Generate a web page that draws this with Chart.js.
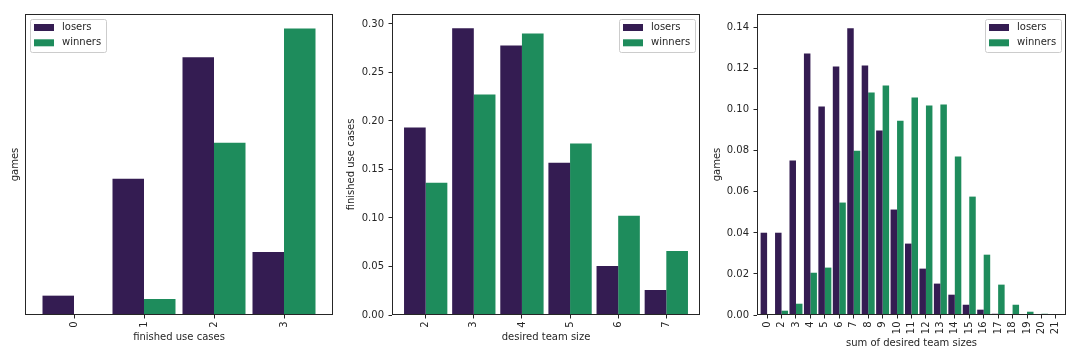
<!DOCTYPE html>
<html>
<head>
<meta charset="utf-8">
<script src="https://cdn.jsdelivr.net/npm/chart.js@4"></script>
<style>
  body { margin: 0; background: #fff; }
  #wrap { position: relative; width: 1080px; height: 360px; overflow: hidden; }
  canvas { position: absolute; top: 0; }
</style>
</head>
<body>
<div id="wrap">
  <canvas id="useCases" width="345" height="360" style="left:0px"></canvas>
  <canvas id="teamSize" width="370" height="360" style="left:340px"></canvas>
  <canvas id="teamSum" width="380" height="360" style="left:700px"></canvas>
</div>
<script>
// finished use cases (share of games)
const useCaseLabels = ['0', '1', '2', '3'];
const useCaseLosers = [0.0407, 0.2867, 0.5425, 0.1328];
const useCaseWinners = [0, 0.0337, 0.3626, 0.603];

// desired team size
const teamSizeLabels = ['2', '3', '4', '5', '6', '7'];
const teamSizeLosers = [0.1932, 0.2955, 0.2779, 0.157, 0.0506, 0.0258];
const teamSizeWinners = [0.1364, 0.2273, 0.2903, 0.1767, 0.1023, 0.0661];

// sum of desired team sizes
const teamSumLabels = ['0', '2', '3', '4', '5', '6', '7', '8', '9', '10', '11',
  '12', '13', '14', '15', '16', '17', '18', '19', '20', '21'];
const teamSumLosers = [0.0401, 0.0401, 0.0753, 0.1275, 0.1016, 0.1211, 0.1397, 0.1216,
  0.0899, 0.0514, 0.0348, 0.0226, 0.0153, 0.0099, 0.005, 0.0026, 0.0006, 0, 0, 0, 0];
const teamSumWinners = [0, 0.0021, 0.0055, 0.0206, 0.0231, 0.0548, 0.0801, 0.1084,
  0.1118, 0.0947, 0.106, 0.1021, 0.1026, 0.0772, 0.0577, 0.0294, 0.0148, 0.005,
  0.0016, 0.0006, 0];

const seriesNames = ['losers', 'winners'];
const seriesColors = ['#341c52', '#1e8c5c'];
const ink = '#262626';

Chart.defaults.font.family = 'DejaVu Sans';
Chart.defaults.font.size = 10;
Chart.defaults.color = ink;

// axes frame + matplotlib-like legend box inside the plot
const framePlugin = {
  id: 'frameLegend',
  afterDraw(chart, args, opts) {
    const ctx = chart.ctx;
    const a = chart.chartArea;
    ctx.save();
    ctx.strokeStyle = ink;
    ctx.lineWidth = 1;
    ctx.strokeRect(Math.round(a.left) + 0.5, Math.round(a.top) + 0.5,
      Math.round(a.right - a.left) - 1, Math.round(a.bottom - a.top) - 1);

    const w = 76, h = 33;
    const bx = opts.side === 'left' ? a.left + 5 : a.right - 5 - w;
    const by = a.top + 5;
    ctx.fillStyle = 'rgba(255,255,255,0.8)';
    ctx.strokeStyle = '#cccccc';
    ctx.beginPath();
    ctx.roundRect(bx + 0.5, by + 0.5, w, h, 2);
    ctx.fill();
    ctx.stroke();

    ctx.font = '10px "DejaVu Sans"';
    ctx.textBaseline = 'middle';
    chart.data.datasets.forEach((ds, i) => {
      const cy = by + 8.5 + i * 15.3;
      ctx.fillStyle = ds.backgroundColor;
      ctx.fillRect(bx + 4, cy - 3.5, 20, 7);
      ctx.fillStyle = ink;
      ctx.fillText(ds.label, bx + 32, cy);
    });
    ctx.restore();
  }
};

function makePanel(id, labels, losers, winners, cfg) {
  const datasets = [losers, winners].map((vals, k) => ({
    label: seriesNames[k],
    data: vals.map((v, i) => ({ x: i, y: v })),
    backgroundColor: seriesColors[k],
    categoryPercentage: 0.9,
    barPercentage: 1.0
  }));

  return new Chart(document.getElementById(id), {
    type: 'bar',
    data: { datasets },
    options: {
      responsive: false,
      animation: false,
      layout: { padding: { top: 14, right: cfg.rightPad, left: 0, bottom: 0 } },
      plugins: {
        legend: { display: false },
        tooltip: { enabled: false },
        frameLegend: { side: cfg.legendSide }
      },
      scales: {
        x: {
          type: 'linear',
          min: -0.7,
          max: labels.length - 0.3,
          offset: false,
          afterBuildTicks: s => { s.ticks = labels.map((_, i) => ({ value: i })); },
          afterFit: s => { s.height = 45; },
          ticks: {
            autoSkip: false,
            minRotation: 90,
            maxRotation: 90,
            padding: 3,
            callback: v => labels[v]
          },
          grid: { display: true, drawOnChartArea: false, tickLength: 3.5, color: ink, offset: false },
          border: { display: false },
          title: { display: true, text: cfg.xTitle, color: ink, padding: { top: 0, bottom: cfg.xTitlePad } }
        },
        y: {
          min: 0,
          max: cfg.yMax,
          afterFit: s => { s.width = cfg.yWidth; },
          ticks: {
            display: cfg.yTicks,
            stepSize: cfg.yStep,
            includeBounds: false,
            padding: 4.5,
            callback: v => v.toFixed(2)
          },
          grid: { display: cfg.yTicks, drawOnChartArea: false, tickLength: 3.5, color: ink },
          border: { display: false },
          title: { display: true, text: cfg.yTitle, color: ink, padding: { top: cfg.yTitlePad, bottom: 0 } }
        }
      }
    },
    plugins: [framePlugin]
  });
}

makePanel('useCases', useCaseLabels, useCaseLosers, useCaseWinners, {
  xTitle: 'finished use cases', yTitle: 'games', yMax: 0.6335, yStep: 0.1, yTicks: false,
  yWidth: 25, rightPad: 12, xTitlePad: 16.5, yTitlePad: 9, legendSide: 'left'
});

makePanel('teamSize', teamSizeLabels, teamSizeLosers, teamSizeWinners, {
  xTitle: 'desired team size', yTitle: 'finished use cases', yMax: 0.3103, yStep: 0.05, yTicks: true,
  yWidth: 52, rightPad: 10, xTitlePad: 16.5, yTitlePad: 5.7, legendSide: 'right'
});

makePanel('teamSum', teamSumLabels, teamSumLosers, teamSumWinners, {
  xTitle: 'sum of desired team sizes', yTitle: 'games', yMax: 0.1467, yStep: 0.02, yTicks: true,
  yWidth: 57, rightPad: 14, xTitlePad: 10.5, yTitlePad: 11, legendSide: 'right'
});
</script>
</body>
</html>
